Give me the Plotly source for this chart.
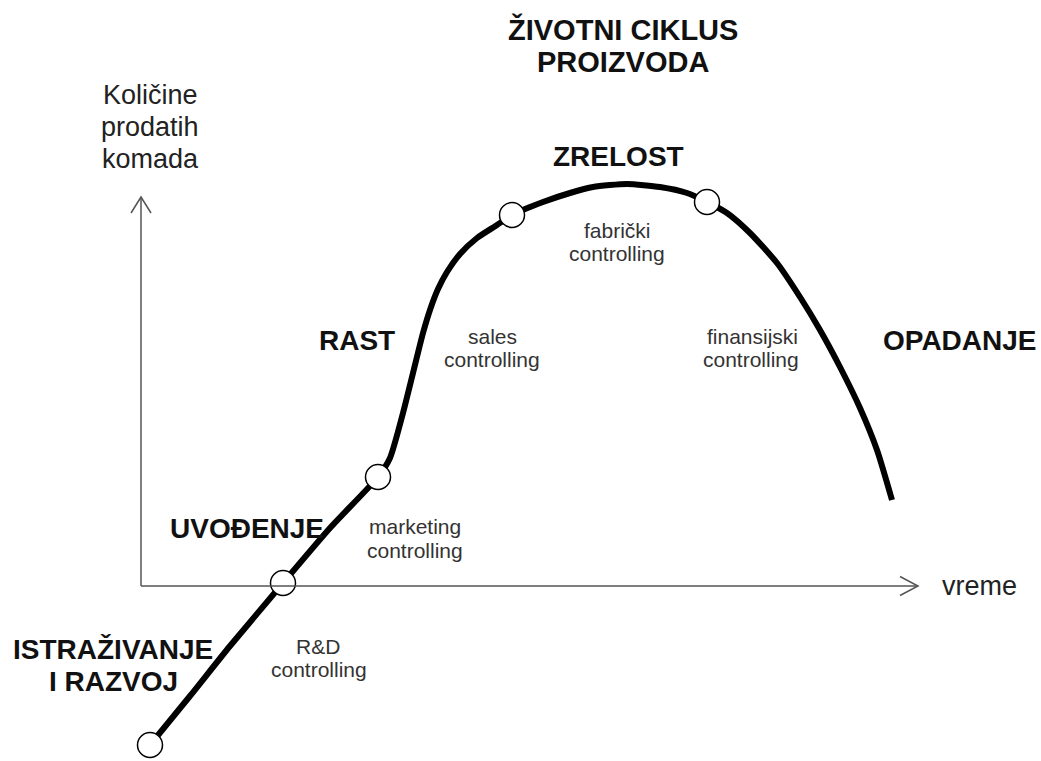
import plotly.graph_objects as go

W, H = 1041, 761

# Curve of the product life cycle (diagram coordinates, y downward)
curve_x = [150, 190, 230, 283, 330, 378, 390, 403, 413, 423, 431, 438, 447, 460, 477, 497, 512,
           543, 570, 593, 627, 660, 687, 707, 727, 750, 777, 800, 820, 840, 860, 877, 892]
curve_y = [745, 696, 646, 583, 528, 477, 458, 413, 373, 333, 307, 289, 272, 254, 238, 225, 215,
           202, 193, 187, 184, 187, 193, 202, 213, 233, 263, 297, 330, 367, 408, 450, 500]

# Phase boundary markers
marker_x = [150, 283, 378, 512, 707]
marker_y = [745, 583, 477, 215, 202]

# Axes geometry
origin = (141, 586)
y_axis_top = 197
x_axis_end = 918

title_lines = ["ŽIVOTNI CIKLUS", "PROIZVODA"]
title_pos = [(623, 29), (623, 62)]
ylabel_lines = ["Količine", "prodatih", "komada"]
ylabel_pos = [(150, 95), (150, 127), (150, 159)]
phase_labels = ["ZRELOST", "RAST", "OPADANJE", "UVOĐENJE", "ISTRAŽIVANJE", "I RAZVOJ"]
phase_pos = [(618, 156), (357, 340), (960, 340), (247, 528), (113, 649), (113, 681)]
ctrl_labels = ["sales", "controlling", "fabrički", "controlling", "finansijski", "controlling",
               "marketing", "controlling", "R&D", "controlling"]
ctrl_pos = [(492, 336), (492, 359), (617, 230), (617, 253), (752, 336), (751, 359),
            (415, 526), (415, 550), (318, 646), (319, 669)]

FONT = "Arial, Liberation Sans, sans-serif"

fig = go.Figure()

fig.add_trace(go.Scatter(x=curve_x, y=curve_y, mode="lines",
                         line=dict(color="black", width=6, shape="spline", smoothing=0.6),
                         hoverinfo="skip"))
fig.add_trace(go.Scatter(x=marker_x, y=marker_y, mode="markers",
                         marker=dict(size=25, color="white", line=dict(color="black", width=1.5)),
                         hoverinfo="skip"))

ax_col = "#555555"
ox, oy = origin
shapes = [
    dict(type="line", x0=ox, y0=oy, x1=ox, y1=y_axis_top, line=dict(color=ax_col, width=1.5)),
    dict(type="line", x0=ox, y0=oy, x1=x_axis_end, y1=oy, line=dict(color=ax_col, width=1.5)),
    dict(type="path", path=f"M {ox-10} {y_axis_top+16} L {ox} {y_axis_top} L {ox+10} {y_axis_top+16}",
         line=dict(color=ax_col, width=1.5)),
    dict(type="path", path=f"M {x_axis_end-18} {oy-9.5} L {x_axis_end} {oy} L {x_axis_end-18} {oy+9.5}",
         line=dict(color=ax_col, width=1.5)),
]

ann = []
for t, (x, y) in zip(title_lines, title_pos):
    ann.append(dict(x=x, y=y, text=f"<b>{t}</b>", showarrow=False,
                    font=dict(family=FONT, size=29, color="#111"), xanchor="center", yanchor="middle"))
for t, (x, y) in zip(ylabel_lines, ylabel_pos):
    ann.append(dict(x=x, y=y, text=t, showarrow=False,
                    font=dict(family=FONT, size=27, color="#222"), xanchor="center", yanchor="middle"))
ann.append(dict(x=940, y=586, text="vreme", showarrow=False,
                font=dict(family=FONT, size=27, color="#222"), xanchor="left", yanchor="middle"))
for t, (x, y) in zip(phase_labels, phase_pos):
    ann.append(dict(x=x, y=y, text=f"<b>{t}</b>", showarrow=False,
                    font=dict(family=FONT, size=28, color="#111"), xanchor="center", yanchor="middle"))
for t, (x, y) in zip(ctrl_labels, ctrl_pos):
    ann.append(dict(x=x, y=y, text=t, showarrow=False,
                    font=dict(family=FONT, size=21, color="#333"), xanchor="center", yanchor="middle"))

fig.update_layout(
    width=W, height=H, margin=dict(l=0, r=0, t=0, b=0),
    paper_bgcolor="white", plot_bgcolor="white", showlegend=False,
    xaxis=dict(range=[0, W], visible=False, fixedrange=True),
    yaxis=dict(range=[H, 0], visible=False, fixedrange=True),
    shapes=shapes, annotations=ann,
)

fig.write_html("out.html", config={"displayModeBar": False},
               post_script="document.body.style.margin='0';document.body.style.overflow='hidden';")
